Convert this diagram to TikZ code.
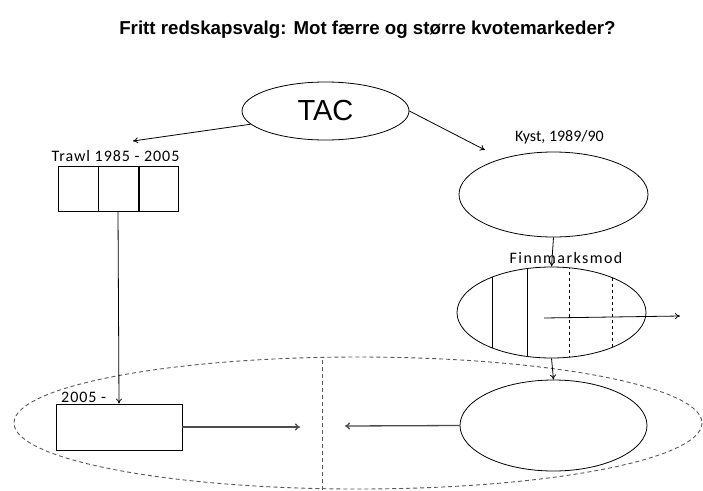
\documentclass[tikz,border=0pt]{standalone}
\usepackage{fontspec}
\setmainfont{Liberation Sans}
\newfontfamily\calfont{Carlito}
\newfontfamily\calwide{Carlito}[LetterSpace=6]
\newfontfamily\calwider{Carlito}[LetterSpace=9]
\usetikzlibrary{shapes.geometric,arrows.meta}
\tikzset{
  line/.style={draw=black, line width=0.8pt},
  arr/.style={line, -{To[length=5pt,width=6pt]}},
  thickarr/.style={draw=black!70, line width=1.3pt, -{To[length=5pt,width=7pt]}},
  oval/.style={ellipse, line, inner sep=0pt},
  lbl/.style={font=\calfont\fontsize{16}{18}\selectfont, inner sep=0pt},
  dashline/.style={draw=black!65, line width=0.9pt, dash pattern=on 4pt off 3pt},
}
\begin{document}
\begin{tikzpicture}[x=1pt,y=-1pt]
\useasboundingbox[fill=white] (0,0) rectangle (703,490);
% title
\node[font=\bfseries\fontsize{18.7}{22}\selectfont] (title) at (367.5,30) {Fritt redskapsvalg: Mot færre og større kvotemarkeder?};
% TAC
\node[oval, minimum width=167pt, minimum height=58pt, font=\fontsize{29}{32}\selectfont] (tac) at (325.5,111) {TAC};
% Trawl
\node[lbl, font=\calwide\fontsize{16}{18}\selectfont] (trawllbl) at (115.5,156) {Trawl 1985 - 2005};
\node[line, rectangle, minimum width=120pt, minimum height=45pt, inner sep=0pt] (trawl) at (118,188.5) {};
\draw[line] (98,166) -- (98,211);
\draw[draw=black, line width=1.5pt] (139,166) -- (139,211);
\coordinate (tipL) at (133,141);
\draw[arr] (tac.190) -- (tipL);
% Kyst
\node[lbl] (kystlbl) at (559.5,137) {Kyst, 1989/90};
\node[oval, minimum width=189pt, minimum height=85pt] (kyst) at (553.5,194.5) {};
\coordinate (tipR) at (485,150);
\draw[arr] (tac.east) -- (tipR);
% Finnmark
\node[oval, minimum width=189pt, minimum height=91pt] (fin) at (551.5,312.5) {};
\begin{scope}
\clip (551.5,312.5) ellipse [x radius=94.5, y radius=45.5];
\draw[line] (492,260) -- (492,370);
\draw[line] (527,260) -- (527,370);
\draw[line, dashed] (569,260) -- (569,370);
\draw[line, dashed] (612,260) -- (612,370);
\end{scope}
\draw[arr] (kyst.south) -- (fin.north);
\node[lbl, font=\calwider\fontsize{16}{18}\selectfont] (finlbl) at (566,258) {Finnmarksmod};
\coordinate (finA) at (544,318);
\coordinate (finB) at (680,316);
\draw[arr] (finA) -- (finB);
% bottom
\draw[dashline] (358,423) ellipse [x radius=344, y radius=66];
\coordinate (divT) at (322,360);
\coordinate (divB) at (322,490);
\draw[dashline] (divT) -- (divB);
\node[line, rectangle, minimum width=126pt, minimum height=46pt, inner sep=0pt] (box05) at (119,427) {};
\node[lbl, anchor=west, font=\calwide\fontsize{16}{18}\selectfont] (lbl05) at (61,397) {2005 -};
\draw[arr] (trawl.south) -- (box05.north);
\node[oval, minimum width=187pt, minimum height=91pt] (bot) at (553.5,425.5) {};
\draw[arr] (fin.south) -- (bot.north);
\coordinate (midL) at (300,427);
\coordinate (midR) at (345,426);
\draw[thickarr] (box05.east) -- (midL);
\draw[thickarr] (bot.west) -- (midR);
\end{tikzpicture}
\end{document}
